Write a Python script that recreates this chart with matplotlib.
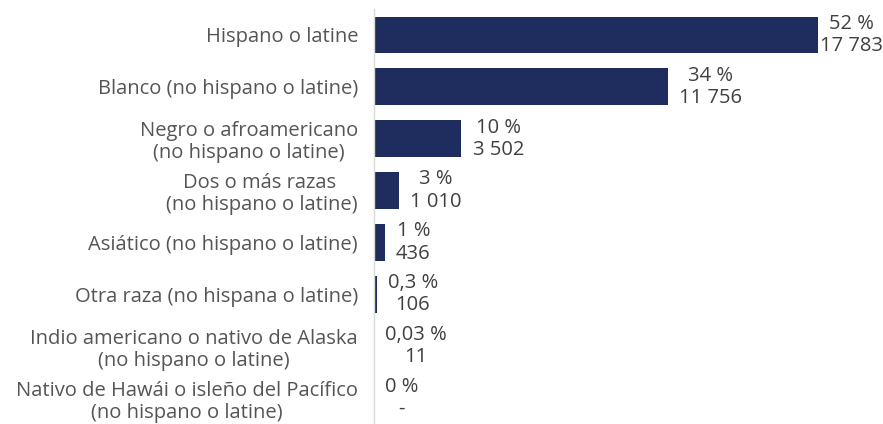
import matplotlib
matplotlib.use('Agg')
import matplotlib.pyplot as plt

plt.rcParams['font.family'] = ['Open Sans', 'DejaVu Sans']

# data
categories = ['Hispano o latine',
              'Blanco (no hispano o latine)',
              'Negro o afroamericano\n(no hispano o latine)',
              'Dos o más razas \n(no hispano o latine)',
              'Asiático (no hispano o latine)',
              'Otra raza (no hispana o latine)',
              'Indio americano o nativo de Alaska\n(no hispano o latine)',
              'Nativo de Hawái o isleño del Pacífico\n(no hispano o latine)']
counts = [17783, 11756, 3502, 1010, 436, 106, 11, 0]
pct_labels = ['52 %', '34 %', '10 %', '3 %', '1 %', '0,3 %', '0,03 %', '0 %']
count_labels = ['17 783', '11 756', '3 502', '1 010', '436', '106', '11', '-']

bar_color = '#1f2d5e'
txt_label = '#555555'
txt_num = '#404040'
fs = 14.5

fig = plt.figure(figsize=(8.83, 4.24), dpi=100)
ax = fig.add_axes([374/883, 0, 1 - 374/883, 415/424])

y = list(range(len(categories)))
ax.barh(y, counts, height=0.71, color=bar_color)
ax.set_ylim(len(categories) - 0.5, -0.5)
ax.set_xlim(0, 20385)

ax.set_yticks(y)
ax.set_yticklabels(categories, fontsize=fs, color=txt_label, multialignment='center',
                   linespacing=1.15)
ax.tick_params(axis='y', length=0, pad=11.5)
ax.set_xticks([])

for s in ['top', 'right', 'bottom']:
    ax.spines[s].set_visible(False)
ax.spines['left'].set_color('#d9d9d9')
ax.spines['left'].set_linewidth(1)

for i, v in enumerate(counts):
    txt = pct_labels[i] + '\n' + count_labels[i]
    if i == 0:
        # no room on the right, push flush against the figure edge
        ax.annotate(txt, xy=(1.0, i), xycoords=('axes fraction', 'data'),
                    ha='right', va='center', multialignment='center',
                    fontsize=fs, color=txt_num, linespacing=1.15)
    else:
        ax.annotate(txt, xy=(v, i), xytext=(8, 0), textcoords='offset points',
                    ha='left', va='center', multialignment='center',
                    fontsize=fs, color=txt_num, linespacing=1.15)

fig.savefig('out.png', dpi=100)
